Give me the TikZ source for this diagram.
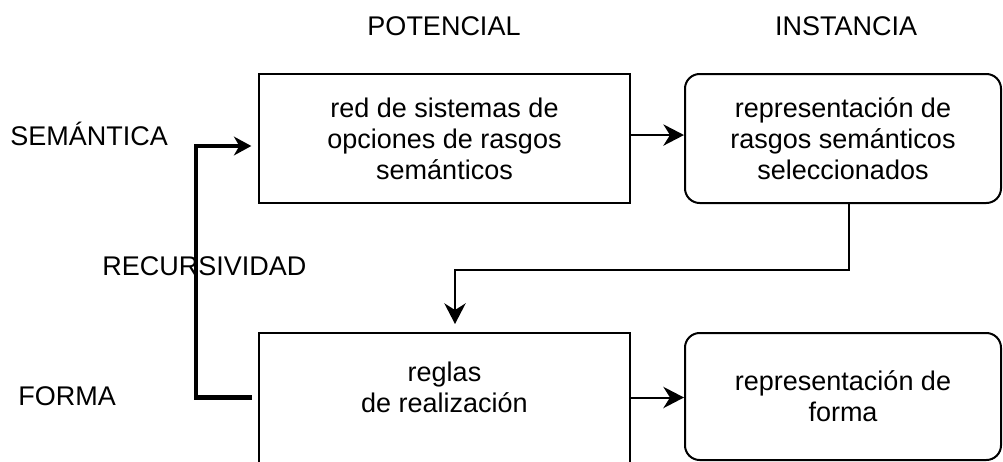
\documentclass[tikz,border=0pt]{standalone}
\usepackage{fontspec}
\setmainfont{Liberation Sans}
\usepackage{tikz}
\usetikzlibrary{positioning,arrows.meta}

\begin{document}
\begin{tikzpicture}[x=0.75pt, y=-0.75pt,
    every node/.style={font=\fontsize{20.25pt}{23.25pt}\selectfont},
    plainbox/.style={draw, line width=1.5pt, align=center,
                     minimum width=278.25pt, minimum height=96.75pt},
    roundbox/.style={plainbox, rounded corners=11pt, minimum width=237pt},
    lbl/.style={inner sep=0pt},
    arr/.style={line width=1.5pt, -{Stealth[length=15.5pt, width=16pt, inset=5pt]}},
    recarr/.style={line width=3.6pt, -{Stealth[length=13pt, width=14pt, inset=4pt]}}]

  \useasboundingbox (0,0) rectangle (1003,461);

  % Column and row labels
  \node[lbl, anchor=base] (potencial) at (444,35) {POTENCIAL};
  \node[lbl, anchor=base] (instancia) at (846,35) {INSTANCIA};
  \node[lbl, anchor=base west] (semantica) at (10,145) {SEMÁNTICA};
  \node[lbl, anchor=base west] (recursividad) at (102,275) {RECURSIVIDAD};
  \node[lbl, anchor=base west] (forma) at (18,405) {FORMA};

  % Boxes
  \node[plainbox] (red) at (444.5,138.5) {red de sistemas de\\opciones de rasgos\\semánticos};
  \node[roundbox] (rsem) at (843,138.5) {representación de\\rasgos semánticos\\seleccionados};
  \node[plainbox, minimum height=105pt] (reglas) at (444.5,403) {};
  \node[align=center] (reglastext) at (444.5,387) {reglas\\de realización};
  \node[roundbox, minimum height=95.25pt] (rforma) at (843,396.5) {representación de\\forma};

  % Corner points
  \coordinate (bend) at (455,270);
  \coordinate (rlow) at (196,397.5);
  \coordinate (rhigh) at (196,146);

  % Connectors
  \draw[arr] ([yshift=2.6pt]red.east) -- ([yshift=2.6pt]rsem.west);
  \draw[arr] (rlow -| reglas.east) -- (rlow -| rforma.west);
  \draw[arr, shorten >=6pt] ([xshift=4.5pt]rsem.south) |- (bend) -- (bend |- reglas.north);
  \draw[recarr, shorten <=4.5pt, shorten >=5pt] (rlow -| reglas.west) -- (rlow) -- (rhigh) -- (rhigh -| red.west);

\end{tikzpicture}
\end{document}
